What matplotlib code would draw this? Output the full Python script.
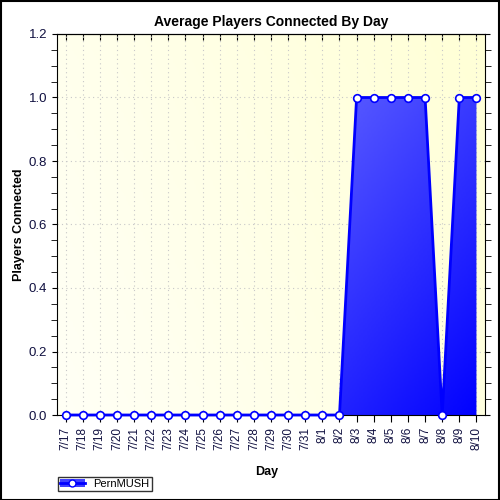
import numpy as np
import matplotlib.pyplot as plt
from matplotlib.colors import LinearSegmentedColormap
from matplotlib.patches import Patch, Rectangle
from matplotlib.lines import Line2D
from matplotlib.ticker import MultipleLocator, FormatStrFormatter

plt.rcParams['font.family'] = ['Liberation Sans', 'DejaVu Sans']

# data
days = ['7/17', '7/18', '7/19', '7/20', '7/21', '7/22', '7/23', '7/24', '7/25',
        '7/26', '7/27', '7/28', '7/29', '7/30', '7/31', '8/1', '8/2', '8/3',
        '8/4', '8/5', '8/6', '8/7', '8/8', '8/9', '8/10']
players = [0, 0, 0, 0, 0, 0, 0, 0, 0, 0, 0, 0, 0, 0, 0, 0, 0,
           1, 1, 1, 1, 1, 0, 1, 1]
series_name = 'PernMUSH'

x = np.arange(len(days))
ext = [-0.5, len(days) - 0.5, 0, 1.2]

fig = plt.figure(figsize=(5, 5), dpi=100)
fig.patch.set_facecolor('white')
fig.patches.append(Rectangle((0.001, 0.001), 0.997, 0.997, transform=fig.transFigure,
                             fill=False, edgecolor='black', linewidth=1.5))

ax = fig.add_axes([0.114, 0.17, 0.856, 0.762])

# yellow background gradient
bg = LinearSegmentedColormap.from_list('bg', ['#fffff6', '#ffffd6'])
gx, gy = np.meshgrid(np.linspace(0, 1, 200), np.linspace(0, 1, 200))
ax.imshow(gx * 0.7 + (1 - gy) * 0.3, cmap=bg, extent=ext,
          aspect='auto', origin='upper', zorder=0)

ax.grid(True, which='major', color='#c8c8c8', linestyle=(0, (1, 3)), linewidth=0.8)
ax.set_axisbelow(True)

# area with blue gradient
poly = ax.fill_between(x, players, 0, color='none', zorder=2)
blue = LinearSegmentedColormap.from_list('blue', ['#a4a8ff', '#0000ff'])
img = ax.imshow(gx * 0.6 + gy * 0.4, cmap=blue, extent=ext,
                aspect='auto', origin='upper', zorder=2)
img.set_clip_path(poly.get_paths()[0], transform=ax.transData)

ax.plot(x, players, color='#0000ff', linewidth=2, marker='o', markersize=5.5,
        markerfacecolor='white', markeredgecolor='#0000ff', markeredgewidth=1.2,
        zorder=3, clip_on=False)

ax.set_xlim(-0.5, len(days) - 0.5)
ax.set_ylim(0, 1.2)

ax.set_xticks(x)
ax.set_xticklabels(days, rotation=90, fontsize=8.5)
ax.yaxis.set_major_locator(MultipleLocator(0.2))
ax.yaxis.set_minor_locator(MultipleLocator(0.05))
ax.yaxis.set_major_formatter(FormatStrFormatter('%.1f'))
ax.tick_params(axis='y', labelsize=9.5, labelcolor='#101040', which='both', right=True)
ax.tick_params(axis='y', which='minor', length=4)
ax.tick_params(axis='x', labelcolor='#101040', length=5)

top = ax.secondary_xaxis('top')
top.set_xticks(x)
top.tick_params(direction='in', length=4, labeltop=False)

ax.set_title('Average Players Connected By Day', fontsize=10, fontweight='bold', pad=6)
ax.set_xlabel('Day', fontsize=9, fontweight='bold')
ax.xaxis.set_label_coords(0.49, -0.135)
ax.set_ylabel('Players Connected', fontsize=9, fontweight='bold')
ax.yaxis.set_label_coords(-0.075, 0.5)

handle = (Patch(facecolor='#4040ff', edgecolor='none'),
          Line2D([], [], color='#0000ff', linewidth=2, marker='o', markersize=5,
                 markerfacecolor='white', markeredgecolor='#0000ff'))
leg = fig.legend([handle], [series_name], loc='lower left', bbox_to_anchor=(0.116, 0.018),
                 fontsize=8, frameon=True, fancybox=False, borderpad=0.2,
                 handlelength=2.2, handletextpad=0.8, borderaxespad=0)
leg.get_frame().set_edgecolor('black')
leg.get_frame().set_linewidth(1)

fig.savefig('out.png', dpi=100)
